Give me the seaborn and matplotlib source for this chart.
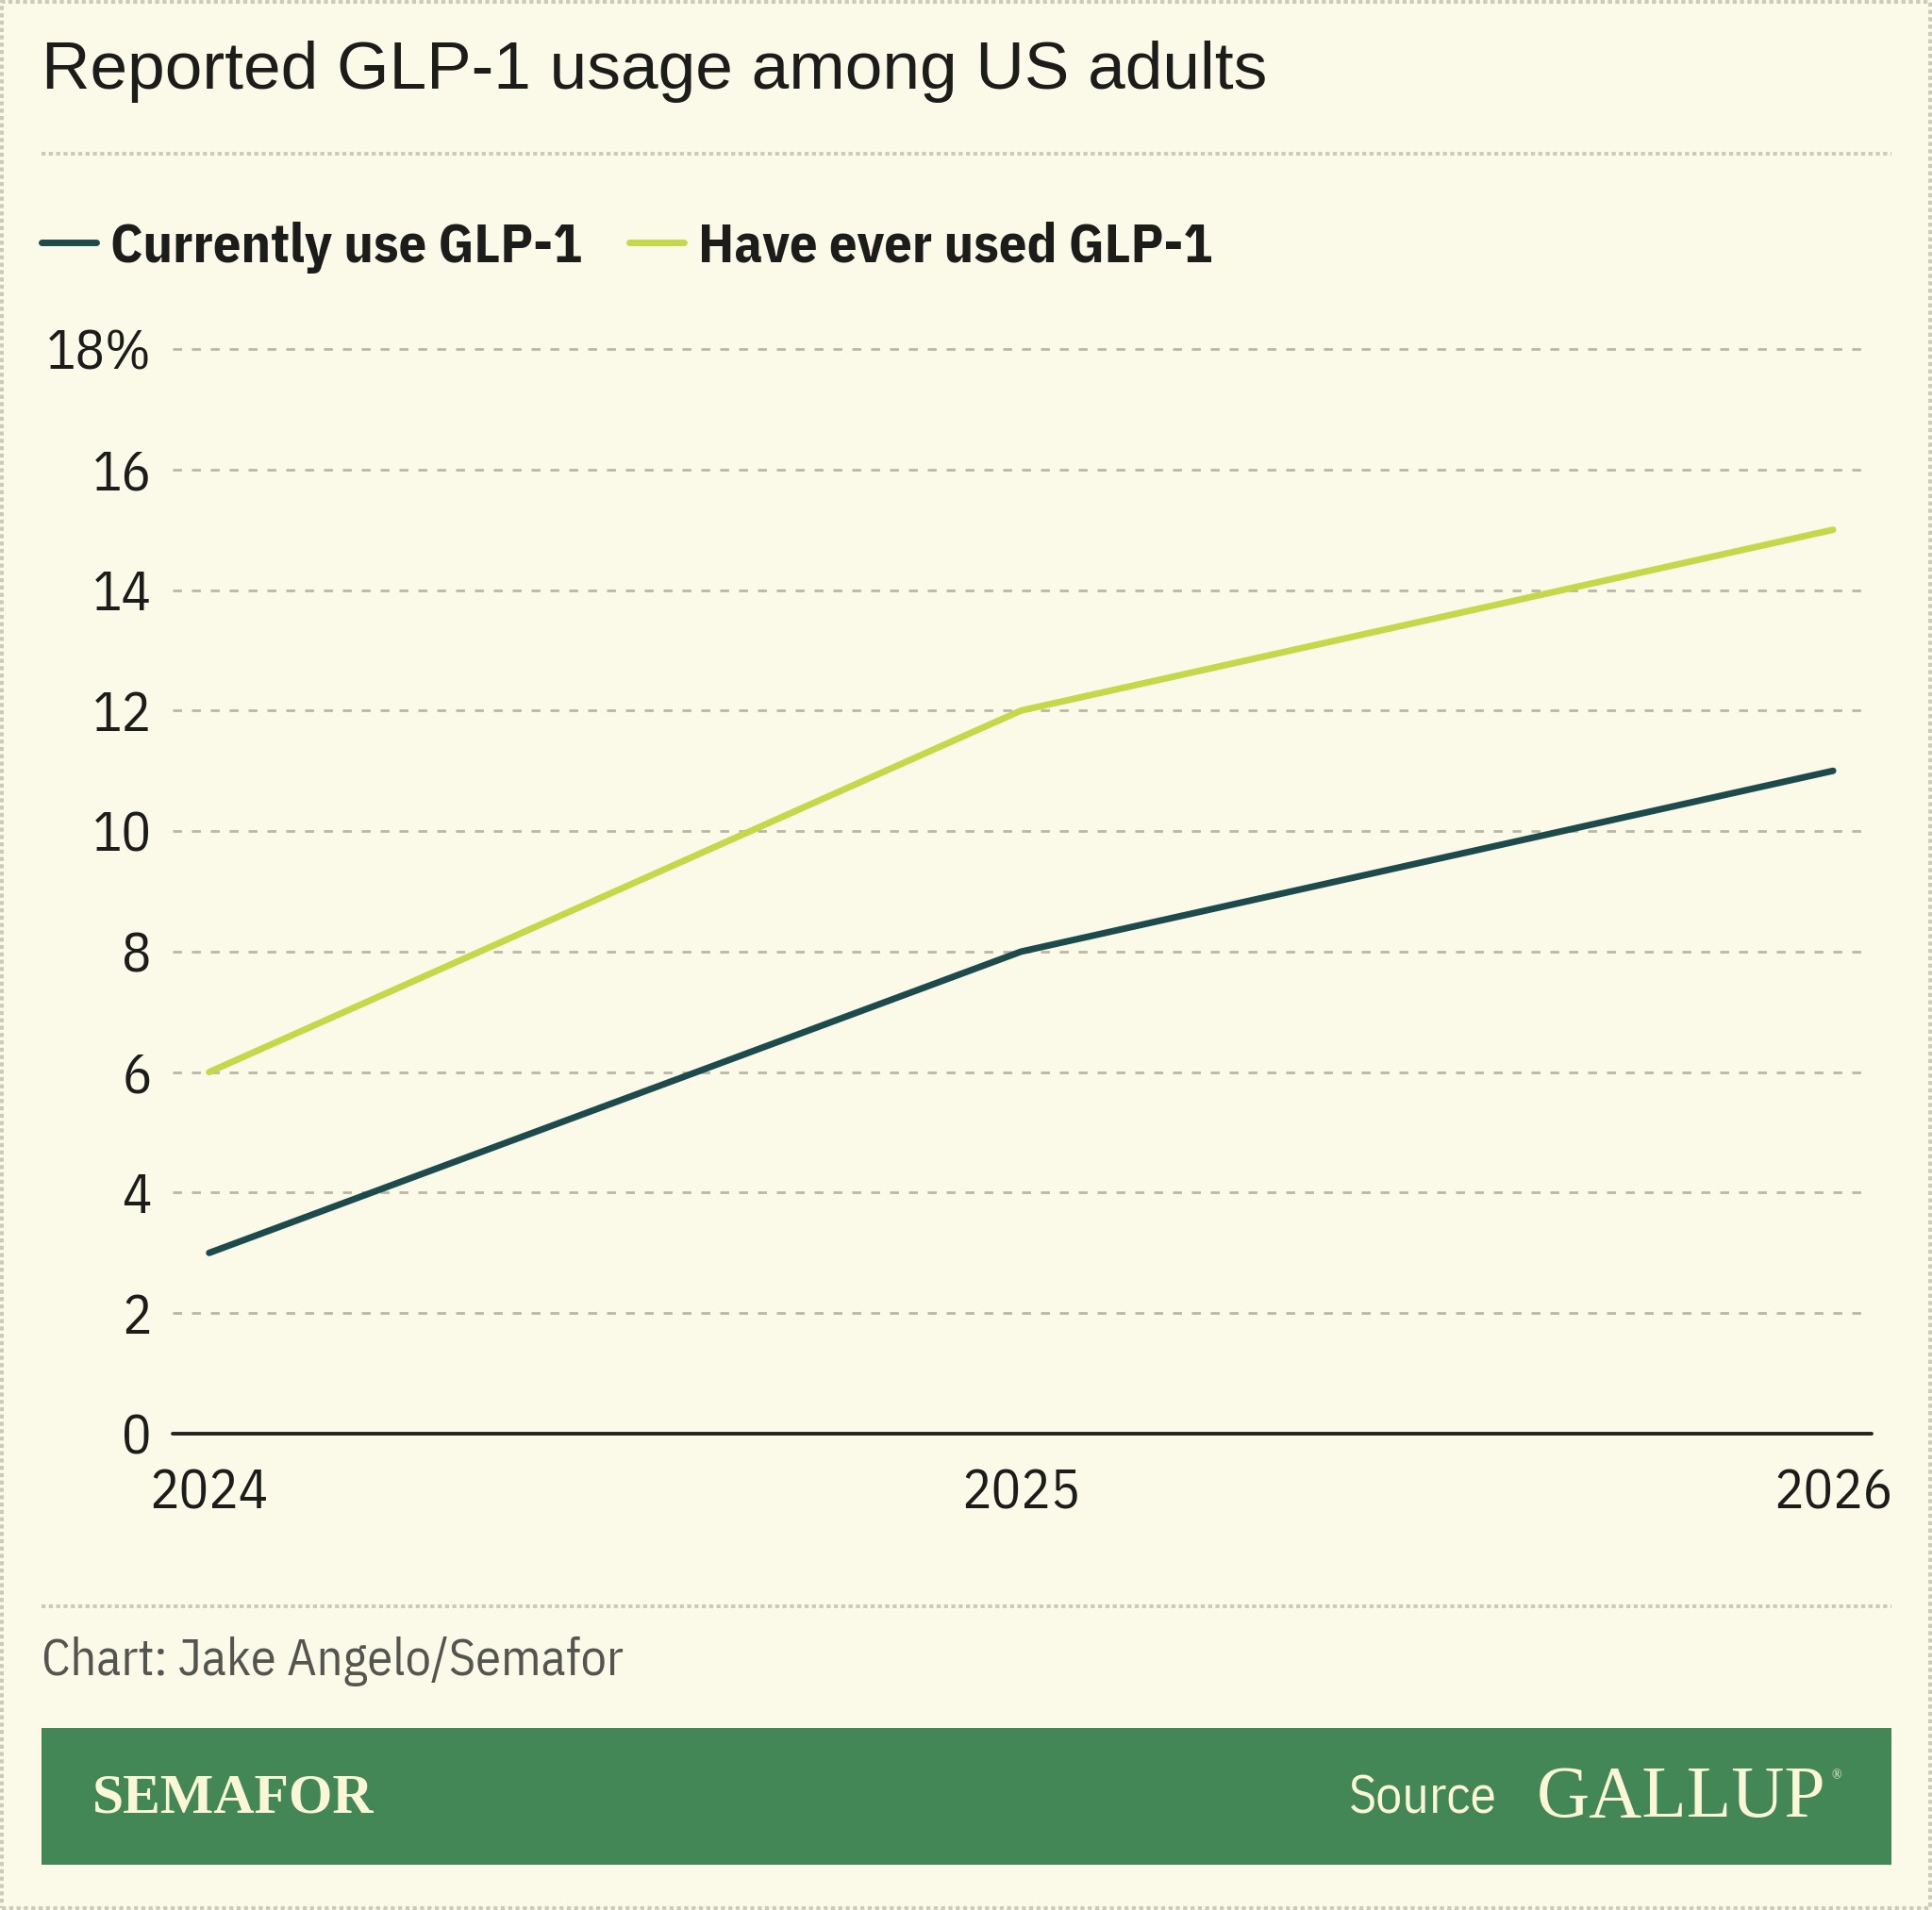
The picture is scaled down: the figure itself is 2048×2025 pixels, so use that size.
#!/usr/bin/env python3
"""
Reported GLP-1 usage among US adults -- Semafor / Gallup line chart.
Writes out.png (2048 x 2025).
"""

import pandas as pd
import matplotlib.pyplot as plt
import matplotlib.patches as mpatches
from matplotlib.lines import Line2D
import seaborn as sns

plt.switch_backend('Agg')

# ─────────────────────────────────────────────────────────────────────────────
#  DATA
# ─────────────────────────────────────────────────────────────────────────────
YEARS = [2024, 2025, 2026]
CURRENT_USE = [3, 8, 11]
EVER_USED = [6, 12, 15]
SERIES_NAMES = ['Currently use GLP-1', 'Have ever used GLP-1']
Y_TICKS = [0, 2, 4, 6, 8, 10, 12, 14, 16, 18]
Y_TICK_LABELS = ['0', '2', '4', '6', '8', '10', '12', '14', '16', '18%']

TITLE = 'Reported GLP-1 usage among US adults'
CREDIT = 'Chart: Jake Angelo/Semafor'

# ─────────────────────────────────────────────────────────────────────────────
#  STYLE
# ─────────────────────────────────────────────────────────────────────────────
BG = '#FBFAE9'
DARK = '#1D4A4C'
LIME = '#C3D94A'
GRID = '#B9B7A5'
SEP = '#CBC9B8'
TEXT = '#1C1C1A'
GREY_TEXT = '#55554F'
BAND = '#428755'
CREAM = '#FAF6D6'

COND = ['IBM Plex Sans Condensed', 'Roboto Condensed', 'DejaVu Sans']
SERIF = ['Liberation Serif', 'DejaVu Serif']

sns.set_theme(style='white')

df = pd.DataFrame({
    'year': YEARS * 2,
    'value': CURRENT_USE + EVER_USED,
    'series': [SERIES_NAMES[0]] * len(YEARS) + [SERIES_NAMES[1]] * len(YEARS),
})

W, H = 2048, 2025
fig = plt.figure(figsize=(W / 100, H / 100), dpi=100, facecolor=BG)

# axes placed in pixel terms
ax_left, ax_right = 183, 1975
ax_top, ax_bot = 363.6, 1523.2
ax = fig.add_axes([ax_left / W, 1 - ax_bot / H,
                   (ax_right - ax_left) / W, (ax_bot - ax_top) / H])
ax.set_facecolor(BG)

sns.lineplot(data=df, x='year', y='value', hue='series',
             palette={SERIES_NAMES[0]: DARK, SERIES_NAMES[1]: LIME},
             linewidth=5.0, legend=False, ax=ax,
             solid_capstyle='round', solid_joinstyle='round', zorder=3)

ax.set_xlim(2023.955, 2026.037)
ax.set_ylim(-0.05, 18.1)

# dashed gridlines
for yv in Y_TICKS[1:]:
    ax.axhline(yv, color=GRID, lw=2.0, ls=(0, (3.4, 3.8)), zorder=1,
               clip_on=False)
ax.axhline(0, color='#222220', lw=2.8, zorder=2, xmax=1.005, clip_on=False)

for s in ax.spines.values():
    s.set_visible(False)

ax.set_yticks(Y_TICKS)
ax.set_yticklabels(Y_TICK_LABELS)
ax.set_xticks(YEARS)
ax.set_xticklabels([str(y) for y in YEARS])
ax.tick_params(axis='y', length=0, pad=16, labelsize=42, labelcolor=TEXT)
ax.tick_params(axis='x', length=0, pad=24, labelsize=42, labelcolor=TEXT)
for lab in ax.get_yticklabels() + ax.get_xticklabels():
    lab.set_family(COND)
for lab in ax.get_yticklabels():
    lab.set_verticalalignment('center_baseline')
ax.set_xlabel('')
ax.set_ylabel('')

# ── title, separators, legend ────────────────────────────────────────────────
fig.text(44 / W, 1 - 76 / H, TITLE, fontsize=51.3, color=TEXT,
         family=['Liberation Sans', 'DejaVu Sans'], va='center', ha='left')

for ypx in (163, 1703):
    fig.add_artist(Line2D([44 / W, 2005 / W], [1 - ypx / H, 1 - ypx / H],
                          color=SEP, lw=2.8, ls=(0, (1.1, 0.9))))

handles = [Line2D([], [], color=DARK, lw=5.0, solid_capstyle='round'),
           Line2D([], [], color=LIME, lw=5.0, solid_capstyle='round')]
leg = fig.legend(handles, SERIES_NAMES, loc='center left',
                 bbox_to_anchor=(44 / W, 1 - 262 / H), ncol=2, frameon=False,
                 borderpad=0, borderaxespad=0,
                 handlelength=1.0, handletextpad=0.25, columnspacing=0.85,
                 prop={'family': COND, 'weight': 'bold', 'size': 42})
for t in leg.get_texts():
    t.set_color(TEXT)

# ── footer ───────────────────────────────────────────────────────────────────
fig.text(44 / W, 1 - 1762 / H, CREDIT, fontsize=39, color=GREY_TEXT,
         family=COND, va='center', ha='left')

fig.add_artist(mpatches.Rectangle((44 / W, 1 - 1977 / H),
                                  (2005 - 44) / W, (1977 - 1832) / H,
                                  transform=fig.transFigure,
                                  facecolor=BAND, edgecolor='none'))
fig.text(98 / W, 1 - 1907 / H, 'SEMAFOR', fontsize=43, color=CREAM,
         family=SERIF, weight='bold', va='center', ha='left')
fig.text(1587 / W, 1 - 1907 / H, 'Source', fontsize=40, color=CREAM,
         family=COND, va='center', ha='right')
fig.text(1629 / W, 1 - 1907 / H, 'GALLUP', fontsize=56, color=CREAM,
         family=SERIF, va='center', ha='left')
fig.text(1941 / W, 1 - 1883 / H, '®', fontsize=10, color=CREAM,
         family=SERIF, va='center', ha='left')

# outer dashed border
fig.add_artist(mpatches.Rectangle((2 / W, 2 / H), (W - 4) / W, (H - 4) / H,
                                  transform=fig.transFigure, facecolor='none',
                                  edgecolor=SEP, lw=2.8,
                                  ls=(0, (1.1, 0.9))))

fig.savefig('out.png', dpi=100, facecolor=BG)
plt.close(fig)
